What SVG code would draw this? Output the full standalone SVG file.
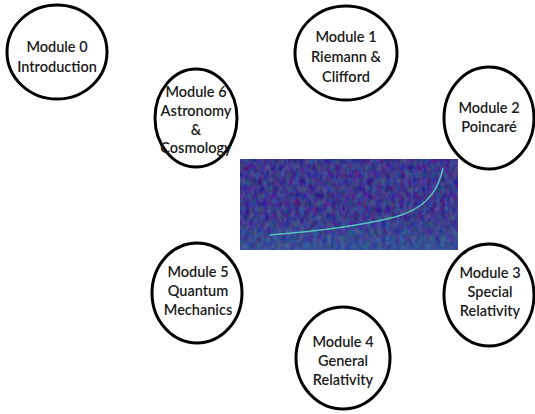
<svg xmlns="http://www.w3.org/2000/svg" width="535" height="414" viewBox="0 0 535 414">
<style>
.node ellipse{fill:#fff;stroke:#000;stroke-width:3}
.node text{font-family:Lato,"Open Sans","Liberation Sans",sans-serif;font-size:14.5px;fill:#1a1a1a;text-anchor:middle;font-weight:600}
</style>
<defs>
<filter id="noise" filterUnits="userSpaceOnUse" x="240" y="159" width="218" height="91" color-interpolation-filters="sRGB">
<feTurbulence type="fractalNoise" baseFrequency="0.22 0.14" numOctaves="2" seed="7" result="t"/>
<feColorMatrix in="t" type="matrix" values="0.35 0 0 0 0.06  0 0.4 0 0 0.02  0 0 0.3 0 0.4  0 0 0 0 1"/>
</filter>
<linearGradient id="band" x1="0" y1="0" x2="0" y2="1">
<stop offset="0" stop-color="#2a8aa8" stop-opacity="0"/>
<stop offset="0.6" stop-color="#2a8aa8" stop-opacity="0"/>
<stop offset="1" stop-color="#2a8aa8" stop-opacity="0.3"/>
</linearGradient>
</defs>
<rect width="535" height="414" fill="#fff"/>
<g id="spectrogram">
<rect x="240" y="159" width="218" height="91" fill="#3a3a8c" filter="url(#noise)"/>
<rect x="240" y="159" width="218" height="91" fill="url(#band)"/>
<path d="M270,235 C320,231 360,226 395,217 C420,210 437,197 443,168" fill="none" stroke="#5fe0c8" stroke-width="1.4" stroke-opacity="0.8"/>
</g>
<g id="connectors"/>
<g id="module0" class="node"><ellipse cx="57" cy="52" rx="50" ry="47"/><text x="57" y="52">Module 0</text><text x="57" y="72">Introduction</text></g>
<g id="module1" class="node"><ellipse cx="346" cy="53" rx="51" ry="47"/><text x="346" y="42">Module 1</text><text x="346" y="62">Riemann &amp;</text><text x="346" y="82">Clifford</text></g>
<g id="module2" class="node"><ellipse cx="489" cy="118" rx="45" ry="51"/><text x="489" y="113">Module 2</text><text x="489" y="132">Poincaré</text></g>
<g id="module6" class="node"><ellipse cx="196" cy="118" rx="41" ry="49"/><text x="196" y="97">Module 6</text><text x="196" y="116">Astronomy</text><text x="196" y="135">&amp;</text><text x="196" y="153">Cosmology</text></g>
<g id="module5" class="node"><ellipse cx="197" cy="293" rx="45" ry="50"/><text x="198" y="277">Module 5</text><text x="198" y="296">Quantum</text><text x="198" y="315">Mechanics</text></g>
<g id="module4" class="node"><ellipse cx="343" cy="358" rx="47" ry="51"/><text x="343" y="347">Module 4</text><text x="343" y="366">General</text><text x="343" y="385">Relativity</text></g>
<g id="module3" class="node"><ellipse cx="489" cy="295" rx="45" ry="51"/><text x="490" y="278">Module 3</text><text x="490" y="297">Special</text><text x="490" y="316">Relativity</text></g>
</svg>
